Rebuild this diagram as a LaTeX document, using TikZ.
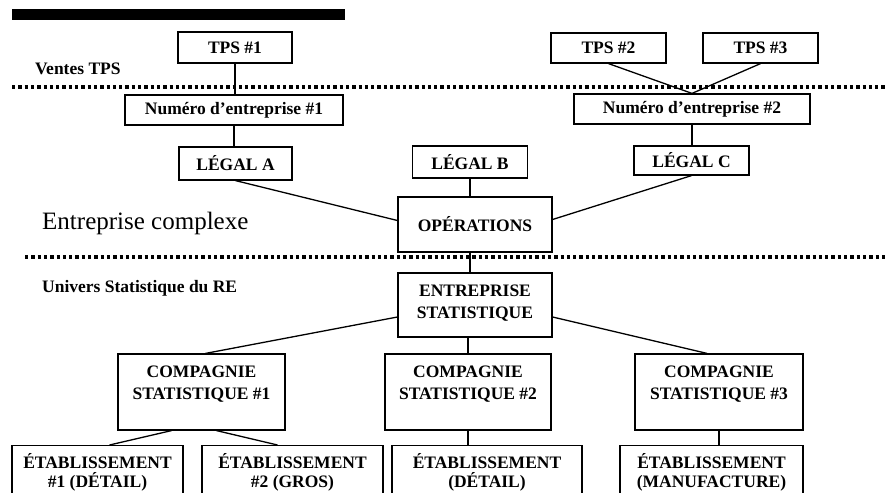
\documentclass[tikz,border=0pt]{standalone}
\usepackage{fontspec}
\setmainfont{Liberation Serif}
\tikzset{
  box/.style={draw, line width=1.2pt, inner sep=0pt, align=center,
    font=\bfseries\fontsize{17.5}{22.5}\selectfont},
  conn/.style={line width=1.3pt},
  sepline/.style={line width=3.5pt, dash pattern=on 3.3pt off 3pt},
  lbl/.style={inner sep=0pt, font=\bfseries\fontsize{17.5}{20}\selectfont}
}
\begin{document}
\begin{tikzpicture}[x=1pt,y=-1pt]
\useasboundingbox (0,0) rectangle (885,492);
\clip (0,0) rectangle (885,492);
% top black bar
\fill[black] (12,9) rectangle (345,20);
% separator lines
\draw[sepline] (12,87) -- (885,87);
\draw[sepline] (25,257) -- (885,257);
% labels
\node[lbl, anchor=base west] (ventes) at (35,75) {Ventes TPS};
\node[inner sep=0pt, anchor=base west, font=\fontsize{25}{28}\selectfont] (complexe) at (42,229) {Entreprise complexe};
\node[lbl, anchor=base west] (univers) at (42,292) {Univers Statistique du RE};
% boxes
\node[box, minimum width=114, minimum height=31] (tps1) at (235,47.5) {TPS \#1};
\node[box, minimum width=115, minimum height=30] (tps2) at (608.5,48) {TPS \#2};
\node[box, minimum width=115, minimum height=30] (tps3) at (760.5,48) {TPS \#3};
\node[box, minimum width=218, minimum height=30] (num1) at (234,110) {Numéro d’entreprise \#1};
\node[box, minimum width=236, minimum height=30] (num2) at (692,109) {Numéro d’entreprise \#2};
\node[box, minimum width=113, minimum height=33] (legA) at (235.5,163.5) {LÉGAL A};
\node[box, minimum width=115, minimum height=32] (legB) at (470,162) {LÉGAL B};
\node[box, minimum width=115, minimum height=29] (legC) at (691.5,160.5) {LÉGAL C};
\node[box, minimum width=154, minimum height=55] (ops) at (475,224.5) {OPÉRATIONS};
\node[box, minimum width=154, minimum height=64] (ent) at (475,305) {ENTREPRISE\\STATISTIQUE\\[-16pt]~};
\node[box, minimum width=167, minimum height=76] (c1) at (201.5,392) {COMPAGNIE\\STATISTIQUE \#1\\[-4pt]~};
\node[box, minimum width=166, minimum height=76] (c2) at (468,392) {COMPAGNIE\\STATISTIQUE \#2\\[-4pt]~};
\node[box, minimum width=168, minimum height=76] (c3) at (719,392) {COMPAGNIE\\STATISTIQUE \#3\\[-4pt]~};
\node[box, anchor=north, minimum width=171, minimum height=70] (e1) at (97.5,445) {ÉTABLISSEMENT\\[-3pt]\#1 (DÉTAIL)\\[-2pt]~};
\node[box, anchor=north, minimum width=181, minimum height=70] (e2) at (292.5,445) {ÉTABLISSEMENT\\[-3pt]\#2 (GROS)\\[-2pt]~};
\node[box, anchor=north, minimum width=190, minimum height=70] (e3) at (487,445) {ÉTABLISSEMENT\\[-3pt](DÉTAIL)\\[-2pt]~};
\node[box, anchor=north, minimum width=183, minimum height=70] (e4) at (711.5,445) {ÉTABLISSEMENT\\[-3pt](MANUFACTURE)\\[-2pt]~};
% connectors
\draw[conn] (tps1.south) -- (tps1.south |- num1.north);
\draw[conn] (num1.south) -- (num1.south |- legA.north);
\draw[conn] (tps2.south) -- (num2.north);
\draw[conn] (tps3.south) -- (num2.north);
\draw[conn] (num2.south) -- (num2.south |- legC.north);
\draw[conn] (legA.south) -- ([yshift=4pt]ops.west);
\draw[conn] (legB.south) -- (legB.south |- ops.north);
\draw[conn] (legC.south) -- ([yshift=5pt]ops.east);
\draw[conn] (ops.south -| legB.south) -- (ent.north -| legB.south);
\draw[conn] ([yshift=-12pt]ent.west) -- ([xshift=4pt]c1.north);
\draw[conn] (ent.south -| c2.north) -- (c2.north);
\draw[conn] ([yshift=-12pt]ent.east) -- ([xshift=-12pt]c3.north);
\draw[conn] ([xshift=-30pt]c1.south) -- ([xshift=12pt]e1.north);
\draw[conn] ([xshift=15pt]c1.south) -- ([xshift=-15pt]e2.north);
\draw[conn] (c2.south) -- (c2.south |- e3.north);
\draw[conn] (c3.south) -- (c3.south |- e4.north);
\end{tikzpicture}
\end{document}
